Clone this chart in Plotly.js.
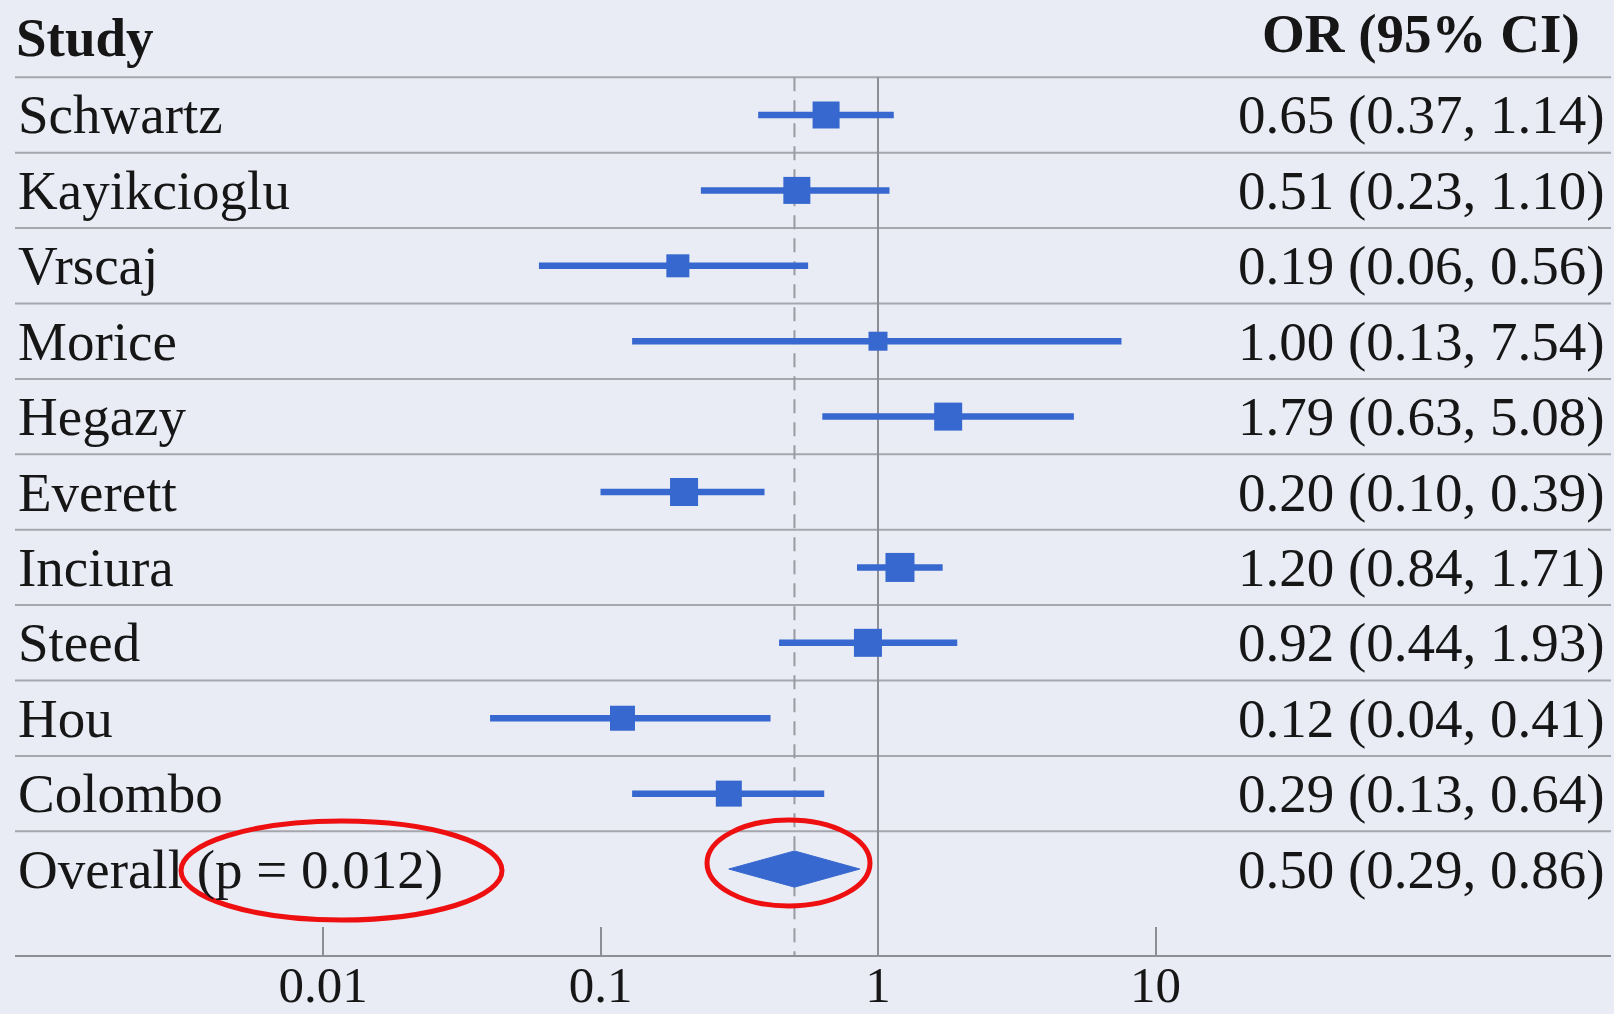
<!DOCTYPE html>
<html>
<head>
<meta charset="utf-8">
<script src="https://cdn.plot.ly/plotly-3.0.1.min.js"></script>
<style>html,body{margin:0;padding:0;background:#e9ebf5;}#chart{width:1614px;height:1014px;}</style>
</head>
<body>
<div id="chart"></div>
<script>
// ---- data ----
var studies = ['Schwartz','Kayikcioglu','Vrscaj','Morice','Hegazy','Everett','Inciura','Steed','Hou','Colombo'];
var orVals  = [0.65, 0.51, 0.19, 1.00, 1.79, 0.20, 1.20, 0.92, 0.12, 0.29];
var ciLow   = [0.37, 0.23, 0.06, 0.13, 0.63, 0.10, 0.84, 0.44, 0.04, 0.13];
var ciHigh  = [1.14, 1.10, 0.56, 7.54, 5.08, 0.39, 1.71, 1.93, 0.41, 0.64];
var weights = [27, 27, 23, 19, 28, 28, 29, 28, 25, 26];
var overallLabel = 'Overall';
var overallP = '0.012';
var overallOR = 0.50, overallLow = 0.29, overallHigh = 0.86;
var tickVals = [0.01, 0.1, 1, 10];
var tickText = ['0.01', '0.1', '1', '10'];
var refNull = 1, refOverall = 0.5;

// ---- styles ----
var blue = '#3768cf';
var bg = '#e9ebf5';
var ink = '#161616';
var serif = 'Liberation Serif, Times New Roman, serif';
var W = 1614, H = 1014, B = 59;
var nRows = studies.length;
var overallRow = nRows;
var yTop = -1.525, yBot = 11.14;

var rows = studies.map(function(_, i){ return i; });

// CI lines
var lx = [], ly = [];
for (var i = 0; i < nRows; i++) { lx.push(ciLow[i], ciHigh[i], null); ly.push(i, i, null); }

var traces = [
  {x: lx, y: ly, type: 'scatter', mode: 'lines', line: {color: blue, width: 6.5}, hoverinfo: 'skip', showlegend: false},
  {x: orVals, y: rows, type: 'scatter', mode: 'markers',
   marker: {symbol: 'square', size: weights, color: blue, opacity: 1, line: {width: 0}}, showlegend: false},
  {x: [overallLow, overallOR, overallHigh, overallOR, overallLow],
   y: [overallRow, overallRow - 0.24, overallRow, overallRow + 0.24, overallRow],
   type: 'scatter', mode: 'lines', fill: 'toself', fillcolor: blue, line: {color: blue, width: 1}, showlegend: false}
];

var shapes = [];
// separators
for (var k = -1; k < nRows; k++) {
  shapes.push({type: 'line', xref: 'x domain', yref: 'y', x0: 0, x1: 1, y0: k + 0.5, y1: k + 0.5,
               line: {color: '#a6a6ae', width: 2}, layer: 'below'});
}
// reference lines
shapes.push({type: 'line', xref: 'x', yref: 'y', x0: refNull, x1: refNull, y0: -0.5, y1: yBot,
             line: {color: '#8e8e96', width: 2}, layer: 'below'});
shapes.push({type: 'line', xref: 'x', yref: 'y', x0: refOverall, x1: refOverall, y0: -0.5, y1: yBot,
             line: {color: '#9a9aa2', width: 2, dash: '14px,9px'}, layer: 'below'});
// red highlight ellipses (paper coords from pixels)
function px(x){ return x / W; }
function py(y){ return 1 - y / (H - B); }
shapes.push({type: 'circle', xref: 'paper', yref: 'paper', x0: px(181), x1: px(502), y0: py(920), y1: py(821),
             line: {color: '#ee1010', width: 5}});
shapes.push({type: 'circle', xref: 'paper', yref: 'paper', x0: px(707), x1: px(870), y0: py(906), y1: py(820),
             line: {color: '#ee1010', width: 5}});

var annotations = [];
var fsz = 55;
annotations.push({xref: 'paper', yref: 'y', x: px(14), y: -1.03, xanchor: 'left', yanchor: 'middle',
  text: '<b>Study</b>', showarrow: false, font: {family: serif, size: fsz, color: ink}});
annotations.push({xref: 'paper', yref: 'y', x: px(1582), y: -1.08, xanchor: 'right', yanchor: 'middle',
  text: '<b>OR (95% CI)</b>', showarrow: false, font: {family: serif, size: fsz, color: ink}});
for (var j = 0; j < nRows; j++) {
  annotations.push({xref: 'paper', yref: 'y', x: px(16), y: j, xanchor: 'left', yanchor: 'middle',
    text: studies[j], showarrow: false, font: {family: serif, size: fsz, color: ink}});
  annotations.push({xref: 'paper', yref: 'y', x: px(1607), y: j, xanchor: 'right', yanchor: 'middle',
    text: orVals[j].toFixed(2) + ' (' + ciLow[j].toFixed(2) + ', ' + ciHigh[j].toFixed(2) + ')',
    showarrow: false, font: {family: serif, size: fsz, color: ink}});
}
annotations.push({xref: 'paper', yref: 'y', x: px(16), y: overallRow, xanchor: 'left', yanchor: 'middle',
  text: overallLabel + ' (p = ' + overallP + ')', showarrow: false, font: {family: serif, size: fsz, color: ink}});
annotations.push({xref: 'paper', yref: 'y', x: px(1607), y: overallRow, xanchor: 'right', yanchor: 'middle',
  text: overallOR.toFixed(2) + ' (' + overallLow.toFixed(2) + ', ' + overallHigh.toFixed(2) + ')',
  showarrow: false, font: {family: serif, size: fsz, color: ink}});

var x0px = 15, x1px = 1611, onePx = 878, dec = 277.5;
var layout = {
  width: W, height: H,
  margin: {l: 0, r: 0, t: 0, b: B, pad: 0},
  paper_bgcolor: bg, plot_bgcolor: bg,
  showlegend: false,
  xaxis: {type: 'log', domain: [x0px / W, x1px / W],
          range: [(x0px - onePx) / dec, (x1px - onePx) / dec],
          showline: true, linecolor: '#8e8e96', linewidth: 2,
          ticks: 'inside', ticklen: 28, tickwidth: 2, tickcolor: '#8e8e96',
          tickvals: tickVals, ticktext: tickText,
          ticklabelstandoff: -16,
          tickfont: {family: serif, size: 51, color: ink},
          showgrid: false, zeroline: false, fixedrange: true},
  yaxis: {range: [yBot, yTop], visible: false, showgrid: false, zeroline: false, fixedrange: true},
  shapes: shapes,
  annotations: annotations
};

Plotly.newPlot('chart', traces, layout, {displayModeBar: false, staticPlot: true});
</script>
</body>
</html>
